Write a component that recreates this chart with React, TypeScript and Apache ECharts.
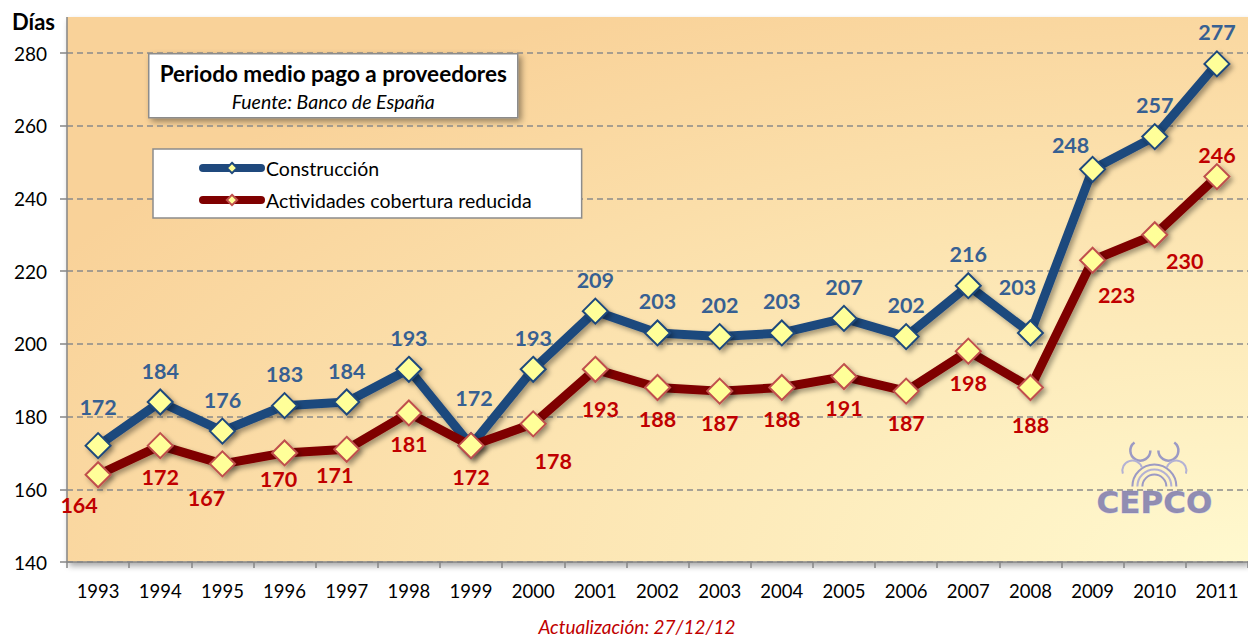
import React, { useEffect, useRef } from "react";
import * as echarts from "echarts";

const years = ["1993","1994","1995","1996","1997","1998","1999","2000","2001","2002","2003","2004","2005","2006","2007","2008","2009","2010","2011"];
const construccion = [172,184,176,183,184,193,172,193,209,203,202,203,207,202,216,203,248,257,277];
const actividades = [164,172,167,170,171,181,172,178,193,188,187,188,191,187,198,188,223,230,246];
const yMin = 140;
const yMax = 280;
const yInterval = 20;

// label offsets (dx, dy from the marker centre) for labels moved by hand in the original
const blueLabelMoves: Record<number, [number, number]> = { 0: [0, -39], 6: [3, -48], 15: [-13, -46], 16: [-22, -24] };
const redLabelMoves: Record<number, [number, number]> = {
  0: [-19, 30], 2: [-16, 34], 3: [-6, 26], 4: [-12, 26], 7: [20, 37], 8: [5, 40],
  15: [0, 38], 16: [24, 35], 17: [30, 26], 18: [0, -22],
};

const FONT = "Lato";
const BLUE = "#1F497D";
const BLUE_LABEL = "#376092";
const RED = "#7F0000";
const RED_LABEL = "#C00000";
const MARKER_FILL = "#FFFF99";

function buildData(values: number[], moves: Record<number, [number, number]>) {
  return values.map((v, i) =>
    moves[i]
      ? { value: v, label: { position: "inside", offset: moves[i] } }
      : v
  );
}

export default function App() {
  const ref = useRef<HTMLDivElement>(null);
  useEffect(() => {
    if (!ref.current) return;
    const chart = echarts.init(ref.current, null, { renderer: "svg" });
    const gridLeft = 67;
    const gridTop = 53;
    const gridBottomY = 562;
    const shadow = {
      shadowColor: "rgba(0,0,0,0.35)",
      shadowBlur: 5,
      shadowOffsetX: 3,
      shadowOffsetY: 3,
    };
    chart.setOption({
      animation: false,
      textStyle: { fontFamily: FONT },
      grid: { left: gridLeft, top: gridTop, width: 1187.5, bottom: 637 - gridBottomY, containLabel: false },
      xAxis: {
        type: "category",
        data: years,
        boundaryGap: true,
        axisLine: { lineStyle: { color: "#868686", width: 1.5 } },
        axisTick: { show: true, length: 6, lineStyle: { color: "#868686", width: 1.5 } },
        axisLabel: { color: "#000", fontSize: 18.5, fontFamily: FONT, margin: 19 },
      },
      yAxis: {
        type: "value",
        min: yMin,
        max: yMax,
        interval: yInterval,
        axisLine: { show: true, lineStyle: { color: "#868686", width: 1.5 } },
        axisTick: { show: true, length: 7, lineStyle: { color: "#868686", width: 1.5 } },
        axisLabel: { color: "#000", fontSize: 19, fontFamily: FONT, margin: 20 },
        splitLine: { show: true, lineStyle: { color: "#8a8a8a", width: 1.5, type: [6, 4] } },
      },
      legend: {
        orient: "vertical",
        left: 153,
        top: 149,
        padding: [9, 50, 8, 46],
        itemGap: 12,
        itemWidth: 58,
        itemHeight: 13,
        backgroundColor: "#ffffff",
        borderColor: "#8c8c8c",
        borderWidth: 1.5,
        lineStyle: { width: 8, cap: "round" },
        textStyle: { fontSize: 19.5, color: "#000", fontFamily: FONT },
        data: ["Construcción", "Actividades cobertura reducida"],
      },
      graphic: [
        {
          type: "rect",
          z: -10,
          silent: true,
          shape: { x: gridLeft, y: 17, width: 1248 - gridLeft, height: gridBottomY - 17 },
          style: {
            fill: {
              type: "radial",
              x: 1,
              y: 1,
              r: 1.15,
              colorStops: [
                { offset: 0, color: "#FFF9CF" },
                { offset: 0.55, color: "#FCE4B1" },
                { offset: 1, color: "#F9D299" },
              ],
            },
            shadowColor: "rgba(0,0,0,0.35)",
            shadowBlur: 6,
            shadowOffsetX: 2,
            shadowOffsetY: 4,
          },
        },
        {
          type: "line",
          silent: true,
          z: 5,
          shape: { x1: gridLeft, y1: 17, x2: gridLeft, y2: gridTop },
          style: { stroke: "#868686", lineWidth: 1.5 },
        },
        {
          type: "text",
          left: 12,
          top: 10,
          style: { text: "Días", fontSize: 22, fontWeight: "bold", fontFamily: FONT, fill: "#000" },
        },
        {
          type: "group",
          left: 148,
          top: 53,
          children: [
            {
              type: "rect",
              shape: { x: 0, y: 0, width: 369, height: 64 },
              style: {
                fill: "#fff",
                stroke: "#8c8c8c",
                lineWidth: 1.5,
                shadowColor: "rgba(0,0,0,0.4)",
                shadowBlur: 6,
                shadowOffsetX: 3,
                shadowOffsetY: 3,
              },
            },
            {
              type: "text",
              x: 184.5,
              y: 20,
              style: {
                text: "Periodo medio pago a proveedores",
                fontSize: 22.5,
                fontWeight: "bold",
                fontFamily: FONT,
                fill: "#000",
                align: "center",
                verticalAlign: "middle",
              },
            },
            {
              type: "text",
              x: 184.5,
              y: 48,
              style: {
                text: "Fuente: Banco de España",
                fontSize: 19.5,
                fontStyle: "italic",
                fontFamily: FONT,
                fill: "#000",
                align: "center",
                verticalAlign: "middle",
              },
            },
          ],
        },
        {
          type: "group",
          left: 1096,
          top: 440,
          z: -5,
          children: [
            { type: "arc", shape: { cx: 60, cy: 50, r: 12, startAngle: Math.PI, endAngle: 2 * Math.PI }, style: { stroke: "#9c9ac4", lineWidth: 2, fill: "none" } },
            { type: "arc", shape: { cx: 60, cy: 50, r: 17, startAngle: Math.PI, endAngle: 2 * Math.PI }, style: { stroke: "#b4b2d4", lineWidth: 2, fill: "none" } },
            { type: "arc", shape: { cx: 60, cy: 50, r: 22, startAngle: Math.PI, endAngle: 2 * Math.PI }, style: { stroke: "#9c9ac4", lineWidth: 2, fill: "none" } },
            { type: "arc", shape: { cx: 46, cy: 14, r: 10, startAngle: 0, endAngle: Math.PI * 1.3 }, style: { stroke: "#9c9ac4", lineWidth: 2.5, fill: "none" } },
            { type: "arc", shape: { cx: 74, cy: 14, r: 10, startAngle: -Math.PI * 0.3, endAngle: Math.PI }, style: { stroke: "#9c9ac4", lineWidth: 2.5, fill: "none" } },
            { type: "arc", shape: { cx: 38, cy: 34, r: 10, startAngle: Math.PI * 0.9, endAngle: Math.PI * 1.9 }, style: { stroke: "#b4b2d4", lineWidth: 2, fill: "none" } },
            { type: "arc", shape: { cx: 82, cy: 34, r: 10, startAngle: Math.PI * 1.1, endAngle: Math.PI * 2.1 }, style: { stroke: "#b4b2d4", lineWidth: 2, fill: "none" } },
            {
              type: "text",
              x: 60,
              y: 65,
              style: {
                text: "CEPCO",
                fontSize: 31,
                fontWeight: "bold",
                fontFamily: "DejaVu Sans",
                fill: "#7d7aad",
                stroke: "#c9c7e3",
                lineWidth: 1,
                align: "center",
                verticalAlign: "middle",
                opacity: 0.85,
              },
            },
          ],
        },
        {
          type: "text",
          x: 637,
          y: 626,
          style: {
            text: "Actualización: 27/12/12",
            fontSize: 19,
            fontStyle: "italic",
            fontFamily: FONT,
            fill: RED_LABEL,
            align: "center",
            verticalAlign: "middle",
          },
        },
      ],
      series: [
        {
          name: "Construcción",
          type: "line",
          data: buildData(construccion, blueLabelMoves),
          symbol: "diamond",
          symbolSize: 25,
          z: 3,
          lineStyle: { color: BLUE, width: 9, cap: "round", join: "round", ...shadow },
          itemStyle: { color: MARKER_FILL, borderColor: BLUE, borderWidth: 2, ...shadow },
          label: {
            show: true,
            position: "top",
            distance: 7,
            color: BLUE_LABEL,
            fontSize: 21.5,
            fontWeight: "bold",
            fontFamily: FONT,
          },
        },
        {
          name: "Actividades cobertura reducida",
          type: "line",
          data: buildData(actividades, redLabelMoves),
          symbol: "diamond",
          symbolSize: 25,
          z: 4,
          lineStyle: { color: RED, width: 9, cap: "round", join: "round", ...shadow },
          itemStyle: { color: MARKER_FILL, borderColor: "#C0504D", borderWidth: 2, ...shadow },
          label: {
            show: true,
            position: "bottom",
            distance: 7,
            color: RED_LABEL,
            fontSize: 21.5,
            fontWeight: "bold",
            fontFamily: FONT,
          },
        },
      ],
    });
    return () => chart.dispose();
  }, []);
  return <div ref={ref} style={{ width: 1248, height: 637, position: "absolute", left: 0, top: 0 }} />;
}
